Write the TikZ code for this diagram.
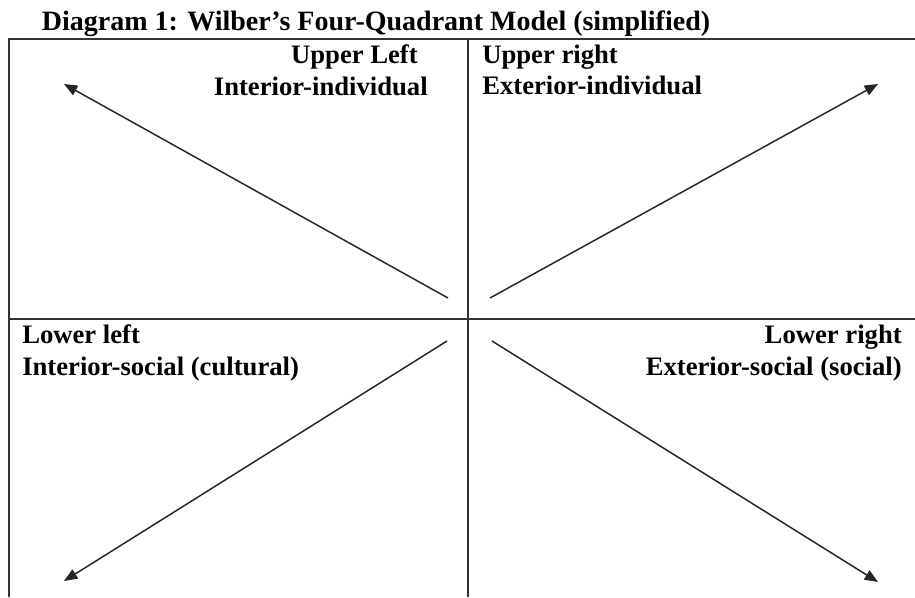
\documentclass[tikz,border=0pt]{standalone}
\usepackage{fontspec}
\setmainfont{Liberation Serif}
\usetikzlibrary{arrows.meta}

\begin{document}
\begin{tikzpicture}[
        x=0.75pt, y=-0.75pt,
        frame/.style={draw=black!80, line width=1.4pt},
        quadarrow/.style={draw=black!85, line width=1.1pt, -{Triangle[length=10pt, width=8pt]}},
        label/.style={inner sep=0pt, font=\bfseries\fontsize{20}{24}\selectfont},
        heading/.style={inner sep=0pt, font=\bfseries\fontsize{21}{25}\selectfont}
      ]
      \useasboundingbox (0,0) rectangle (915,597);
      % frame and axes
      \draw[frame] (9,597) -- (9,39) -- (915,39);
      \draw[frame] (468,39) -- (468,597);
      \draw[frame] (9,319) -- (915,319);
      % title
      \node[heading, anchor=base] (title) at (376,30) {Diagram 1: Wilber’s Four-Quadrant Model (simplified)};
      % quadrant labels
      \node[label, anchor=base east] (ul1) at (418,63) {Upper Left};
      \node[label, anchor=base east] (ul2) at (428,95) {Interior-individual};
      \node[label, anchor=base west] (ur1) at (482,63) {Upper right};
      \node[label, anchor=base west] (ur2) at (482,94) {Exterior-individual};
      \node[label, anchor=base west] (ll1) at (22,343) {Lower left};
      \node[label, anchor=base west] (ll2) at (22,375) {Interior-social (cultural)};
      \node[label, anchor=base east] (lr1) at (902,343) {Lower right};
      \node[label, anchor=base east] (lr2) at (902,375) {Exterior-social (social)};
      % arrows from the centre
      \coordinate (ulStart) at (448,298);
      \coordinate (ulEnd) at (64,84);
      \coordinate (urStart) at (490,298);
      \coordinate (urEnd) at (878,84);
      \coordinate (llStart) at (447,341);
      \coordinate (llEnd) at (64,581);
      \coordinate (lrStart) at (492,341);
      \coordinate (lrEnd) at (878,582);
      \draw[quadarrow] (ulStart) -- (ulEnd);
      \draw[quadarrow] (urStart) -- (urEnd);
      \draw[quadarrow] (llStart) -- (llEnd);
      \draw[quadarrow] (lrStart) -- (lrEnd);
\end{tikzpicture}
\end{document}
